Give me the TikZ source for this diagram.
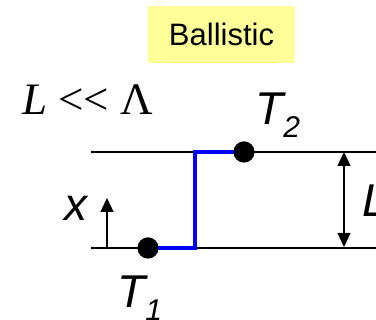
\documentclass[tikz,border=0pt]{standalone}
\usepackage{fontspec}
\setmainfont{Liberation Sans}
\newfontfamily\seriffont{Liberation Serif}
\usetikzlibrary{arrows.meta}
\definecolor{boxyellow}{RGB}{255,255,153}
\begin{document}
\begin{tikzpicture}[x=1pt,y=-1pt,
  rail/.style={line width=1.3pt,black},
  path/.style={line width=4pt,blue,line join=miter},
  dot/.style={circle,fill=black,inner sep=0pt,minimum size=21pt},
  arr/.style={line width=1.3pt,-{Triangle[width=13pt,length=14pt]}},
  darr/.style={line width=1.3pt,{Triangle[width=13pt,length=14pt]}-{Triangle[width=13pt,length=14pt]}},
  lab/.style={inner sep=0pt,anchor=base west,font=\fontsize{46}{46}\selectfont\itshape}]
\useasboundingbox (0,0) rectangle (376,320);
\node[fill=boxyellow,minimum width=147pt,minimum height=57pt,inner sep=0pt,
  font=\fontsize{31}{31}\selectfont] (title) at (221.5,34.5) {Ballistic};
\node[inner sep=0pt,anchor=base west,font=\seriffont\fontsize{45}{45}\selectfont] (cond) at (22,115) {\textit{L} << Λ};
\coordinate (tl) at (91,152);
\coordinate (tr) at (376,152);
\coordinate (bl) at (91,248);
\coordinate (br) at (376,248);
\draw[rail] (tl) -- (tr);
\draw[rail] (bl) -- (br);
\coordinate (c1) at (195,248);
\coordinate (c2) at (195,152);
\node[dot] (t1) at (148,248) {};
\node[dot] (t2) at (244,152) {};
\draw[path] (t1.center) -- (c1) -- (c2) -- (t2.center);
\node[dot] at (t1.center) {};
\node[dot] at (t2.center) {};
\coordinate (ua) at (107,247);
\coordinate (ub) at (107,198);
\draw[arr] (ua) -- (ub);
\coordinate (da) at (344,152);
\coordinate (db) at (344,247);
\draw[darr] (da) -- (db);
\node[lab] (T2) at (255,125) {T\textsubscript{\fontsize{30}{30}\selectfont 2}};
\node[lab] (T1) at (117,308) {T\textsubscript{\fontsize{30}{30}\selectfont 1}};
\node[lab] (X) at (64,221) {x};
\node[lab] (LL) at (362,217) {L};
\end{tikzpicture}
\end{document}
